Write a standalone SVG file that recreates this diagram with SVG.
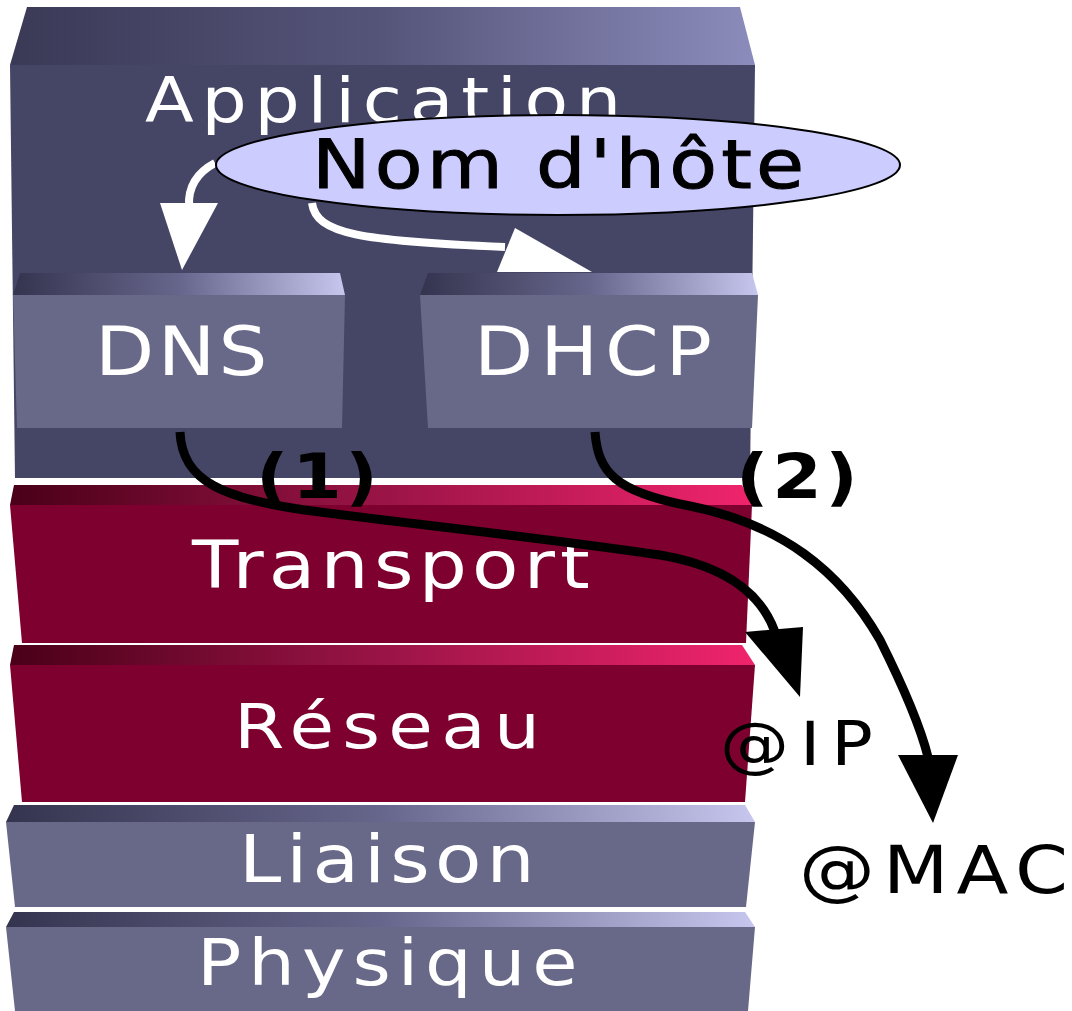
<svg xmlns="http://www.w3.org/2000/svg" width="1072" height="1011" viewBox="0 0 1072 1011">
<defs>
<linearGradient id="gBlue" x1="0" y1="0" x2="1" y2="0">
<stop offset="0" stop-color="#35344f"/><stop offset="0.5" stop-color="#66668c"/><stop offset="1" stop-color="#c6c6ee"/>
</linearGradient>
<linearGradient id="gApp" x1="0" y1="0" x2="1" y2="0">
<stop offset="0" stop-color="#3a3956"/><stop offset="0.5" stop-color="#55557a"/><stop offset="1" stop-color="#8c8cbc"/>
</linearGradient>
<linearGradient id="gRed" x1="0" y1="0" x2="1" y2="0">
<stop offset="0" stop-color="#4a0018"/><stop offset="0.5" stop-color="#9a1446"/><stop offset="1" stop-color="#f0246c"/>
</linearGradient>
<style>
.lbl{font-family:"DejaVu Sans","Liberation Sans",sans-serif;fill:#fff}
.blk{font-family:"DejaVu Sans","Liberation Sans",sans-serif;fill:#000}
.bold{font-weight:bold}
.body-blue{fill:#686888}
.body-app{fill:#454566}
.body-red{fill:#7d002e}
.wline{fill:none;stroke:#fff;stroke-width:8}
.bline{fill:none;stroke:#000;stroke-width:9}
</style>
</defs>
<rect width="1072" height="1011" fill="#fff"/>

<g id="application">
<polygon points="27,7 740,7 755,65 10,65" fill="url(#gApp)"/>
<polygon class="body-app" points="10,65 755,65 750,478 15,478"/>
<text class="lbl" transform="translate(145,122) scale(1.15,1)" font-size="62" textLength="414" lengthAdjust="spacing">Application</text>
</g>

<g id="connectors-white">
<path class="wline" d="M215,163 C198,172 188,185 189,206"/>
<polygon points="160,203 218,203 182,270" fill="#fff"/>
<path class="wline" d="M312,203 C316,234 360,241 505,247"/>
<polygon points="497,272 515,228 592,272" fill="#fff"/>
</g>

<g id="nom-hote">
<ellipse cx="558" cy="165" rx="342" ry="50" fill="#ccccff" stroke="#000" stroke-width="2"/>
<text class="blk" transform="translate(312,188) scale(1.15,1)" font-size="68" textLength="428" lengthAdjust="spacing" stroke="#000" stroke-width="1">Nom d'hôte</text>
</g>

<g id="dns">
<polygon points="20,273 340,273 345,295 13,295" fill="url(#gBlue)"/>
<polygon class="body-blue" points="13,295 345,295 342,428 17,428"/>
<text class="lbl" transform="translate(95,375) scale(1.15,1)" font-size="67" textLength="150" lengthAdjust="spacing">DNS</text>
</g>

<g id="dhcp">
<polygon points="428,273 752,273 758,295 420,295" fill="url(#gBlue)"/>
<polygon class="body-blue" points="420,295 758,295 752,428 428,428"/>
<text class="lbl" transform="translate(474,375) scale(1.15,1)" font-size="67" textLength="207" lengthAdjust="spacing">DHCP</text>
</g>

<g id="transport">
<polygon points="14,485 742,485 752,505 10,505" fill="url(#gRed)"/>
<polygon class="body-red" points="10,505 752,505 746,643 22,643"/>
<text class="lbl" transform="translate(192,588) scale(1.15,1)" font-size="66" textLength="346" lengthAdjust="spacing">Transport</text>
</g>

<g id="reseau">
<polygon points="14,645 742,645 755,665 10,665" fill="url(#gRed)"/>
<polygon class="body-red" points="10,665 755,665 745,802 22,802"/>
<text class="lbl" transform="translate(234,748) scale(1.15,1)" font-size="63" textLength="266" lengthAdjust="spacing">Réseau</text>
</g>

<g id="liaison">
<polygon points="14,805 745,805 755,822 6,822" fill="url(#gBlue)"/>
<polygon class="body-blue" points="6,822 755,822 746,907 15,907"/>
<text class="lbl" transform="translate(239,882) scale(1.15,1)" font-size="66" textLength="257" lengthAdjust="spacing">Liaison</text>
</g>

<g id="physique">
<polygon points="14,912 745,912 755,927 6,927" fill="url(#gBlue)"/>
<polygon class="body-blue" points="6,927 755,927 748,1011 15,1011"/>
<text class="lbl" transform="translate(197,985) scale(1.15,1)" font-size="64" textLength="331" lengthAdjust="spacing">Physique</text>
</g>

<g id="connectors">
<path class="bline" d="M180,432 C182,480 220,500 320,512 C430,526 560,540 660,555 C720,565 760,590 775,632"/>
<polygon points="745,632 803,627 800,697"/>
<path class="bline" d="M595,432 C598,472 615,492 690,506 C780,524 840,570 880,640 C905,690 920,725 928,757"/>
<polygon points="898,755 958,755 933,823"/>
</g>

<g id="labels">
<text class="blk bold" transform="translate(256,498) scale(1.15,1)" font-size="62" textLength="106" lengthAdjust="spacing">(1)</text>
<text class="blk bold" transform="translate(736,498) scale(1.15,1)" font-size="62" textLength="106" lengthAdjust="spacing">(2)</text>
<text class="blk" transform="translate(720,765) scale(1.15,1)" font-size="60" textLength="133" lengthAdjust="spacing">@IP</text>
<text class="blk" transform="translate(799,893) scale(1.15,1)" font-size="66" textLength="234" lengthAdjust="spacing">@MAC</text>
</g>
</svg>
